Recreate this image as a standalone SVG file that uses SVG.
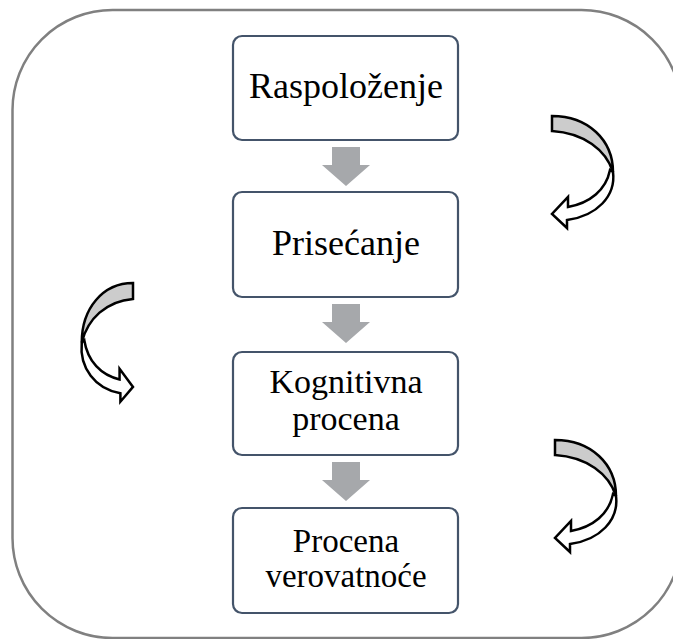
<svg xmlns="http://www.w3.org/2000/svg" width="673" height="639" viewBox="0 0 673 639">
  <style>
    .frame { fill: #ffffff; stroke: #808080; stroke-width: 2.5; }
    .box { fill: #ffffff; stroke: #44546a; stroke-width: 2.2; }
    .lbl { font-family: "Liberation Serif", "Times New Roman", serif; fill: #000000; text-anchor: middle; }
    .flow { fill: #a6a8ab; }
    .back { fill: #cccccc; stroke: #000000; stroke-width: 2.5; stroke-linejoin: miter; vector-effect: non-scaling-stroke; }
    .front { fill: #ffffff; stroke: #000000; stroke-width: 2.5; stroke-linejoin: miter; vector-effect: non-scaling-stroke; }
  </style>
  <defs>
    <g id="curved">
      <path class="back" d="M0,0 C36,0 61,24 61,56 C54,34 32,17 0,15 Z"/>
      <path class="front" d="M61,56 C64,80 45,100 15,104 L15,112 L0,98 L16,81 L16,91 C38,87 54,74 58,54 Z"/>
    </g>
    <polygon id="down" points="-14,0 14,0 14,18 24,18 0,39 -24,18 -14,18"/>
  </defs>

  <rect id="frame" class="frame" x="12.5" y="10" width="669" height="628" rx="100" ry="100"/>

  <g id="connectors">
    <use href="#down" class="flow" x="346" y="147"/>
    <use href="#down" class="flow" x="346" y="304"/>
    <use href="#down" class="flow" x="346" y="462"/>
  </g>

  <g id="cycle-arrows">
    <use href="#curved" transform="translate(552,116)"/>
    <use href="#curved" transform="translate(133,283) scale(-0.84,1.06)"/>
    <use href="#curved" transform="translate(555,440)"/>
  </g>

  <g id="node-raspolozenje">
    <rect class="box" x="233" y="36" width="225" height="104" rx="9"/>
    <text class="lbl" x="346" y="98" font-size="36">Raspoloženje</text>
  </g>
  <g id="node-prisecanje">
    <rect class="box" x="233" y="192" width="225" height="105" rx="9"/>
    <text class="lbl" x="346" y="255" font-size="36">Prisećanje</text>
  </g>
  <g id="node-kognitivna-procena">
    <rect class="box" x="233" y="352" width="225" height="103" rx="9"/>
    <text class="lbl" x="346" y="393" font-size="34">Kognitivna</text>
    <text class="lbl" x="346" y="430" font-size="34">procena</text>
  </g>
  <g id="node-procena-verovatnoce">
    <rect class="box" x="233" y="508" width="225" height="105" rx="9"/>
    <text class="lbl" x="346" y="552" font-size="33">Procena</text>
    <text class="lbl" x="346" y="587" font-size="33">verovatnoće</text>
  </g>
</svg>
